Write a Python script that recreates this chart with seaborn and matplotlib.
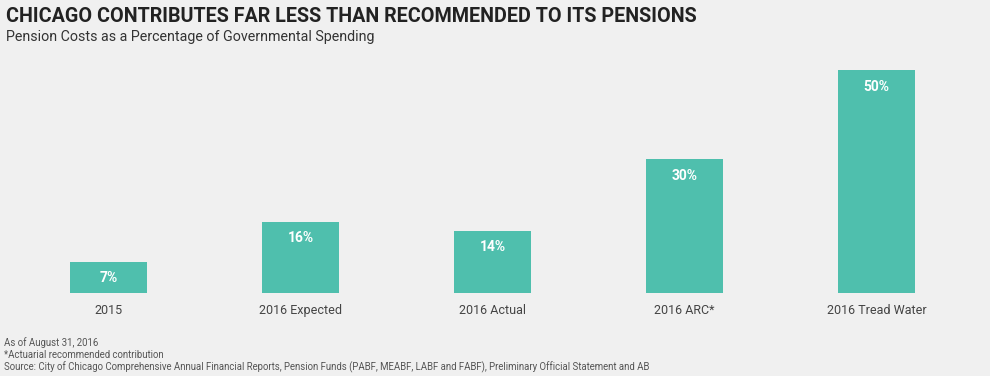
import numpy as np
import pandas as pd
import matplotlib
matplotlib.use("Agg")
import matplotlib.pyplot as plt
import seaborn as sns

# chart data
categories = ['2015', '2016 Expected', '2016 Actual', '2016 ARC*', '2016 Tread Water']
pension_pct = [7, 16, 14, 30, 50]

title = 'CHICAGO CONTRIBUTES FAR LESS THAN RECOMMENDED TO ITS PENSIONS'
subtitle = 'Pension Costs as a Percentage of Governmental Spending'
notes = ['As of August 31, 2016',
         '*Actuarial recommended contribution',
         'Source: City of Chicago Comprehensive Annual Financial Reports, Pension Funds (PABF, MEABF, LABF and FABF), Preliminary Official Statement and AB']

bg = '#f0f0f0'
bar_color = '#4fbfad'

sns.set_theme(style='white')
plt.rcParams['font.family'] = ['Roboto', 'DejaVu Sans']

df = pd.DataFrame({'category': categories, 'pct': pension_pct})

fig = plt.figure(figsize=(9.9, 3.76), dpi=100, facecolor=bg)
ax = fig.add_axes([0.0126, 0.2207, 0.9697, 0.5931])
ax.set_facecolor(bg)

sns.barplot(data=df, x='category', y='pct', color=bar_color, saturation=1,
            width=0.40, linewidth=0, ax=ax)

ax.set_xlim(-0.5, len(categories) - 0.5)
ax.set_ylim(0, 50)
ax.set_xlabel('')
ax.set_ylabel('')
ax.set_yticks([])
ax.tick_params(axis='x', length=0, pad=8, labelsize=9, labelcolor='#444444')
for s in ax.spines.values():
    s.set_visible(False)

# value labels inside bar tops
for i, v in enumerate(pension_pct):
    ax.annotate(f'{v}%', (i, v), xytext=(0, -12), textcoords='offset points',
                ha='center', va='center', color='white', fontsize=10,
                fontweight='bold')

fig.text(0.006, 0.955, title, fontsize=14.2, fontweight='bold', color='#222222',
         ha='left', va='center')
fig.text(0.006, 0.902, subtitle, fontsize=10.3, color='#333333',
         ha='left', va='center')

for k, line in enumerate(notes):
    fig.text(0.004, 0.088 - k * 0.033, line, fontsize=6.9, color='#555555',
             ha='left', va='center')

fig.savefig('out.png', dpi=100, facecolor=bg)
